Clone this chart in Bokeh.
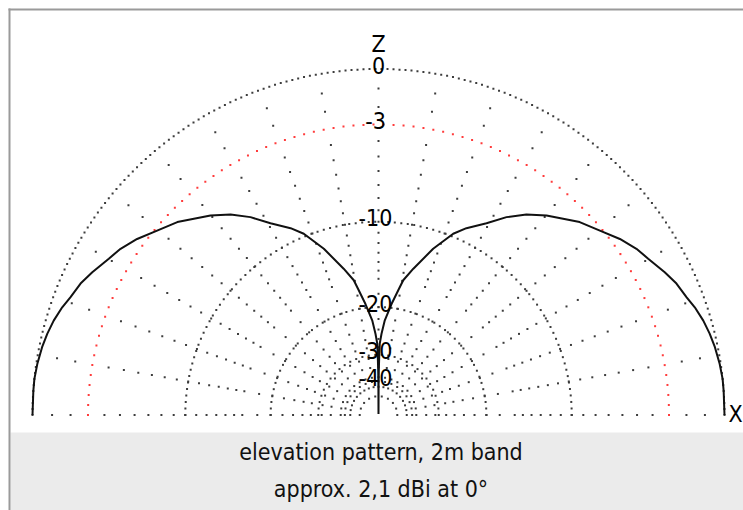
import math
from bokeh.plotting import figure
from bokeh.models import Range1d
from bokeh.core.properties import value
from bokeh.embed import file_html
from bokeh.resources import INLINE

# ---------------- data ----------------
# elevation angle measured from the X axis (right horizon), degrees
elev_deg = [0, 4, 6, 8.5, 11.4, 13.8, 16.2, 18.8, 20.9, 23.8, 26.5, 30.1, 32.8,
            36.1, 39.8, 43.8, 49.9, 53.6, 57.1, 60.6, 64.8, 67.6, 71.8, 76.6,
            79.6, 81.0, 83.3, 86.2, 87.9, 89.0, 89.3, 89.6, 89.8, 90.0,
            90.2, 90.4, 90.7, 91.0, 92.1, 93.8, 96.7, 99.0, 100.4, 103.4,
            108.2, 112.4, 115.2, 119.4, 122.9, 126.4, 130.1, 136.2, 140.2,
            143.9, 147.2, 149.9, 153.5, 156.2, 159.1, 161.2, 163.8, 166.2,
            168.6, 171.5, 174.0, 176.0, 180.0]
gain_db = [0.0, 0.0, 0.0, -0.05, -0.14, -0.25, -0.39, -0.6, -0.82, -1.04, -1.35,
           -1.79, -2.06, -2.52, -3.14, -3.71, -4.85, -5.63, -6.59, -7.77, -8.86,
           -9.75, -11.7, -14.3, -15.9, -17.3, -19.4, -22.2, -24.9, -27.1, -30.7,
           -35.0, -42.0, -99.0,
           -42.0, -35.0, -30.7, -27.1, -24.9, -22.2, -19.4, -17.3, -15.9, -14.3,
           -11.7, -9.75, -8.86, -7.77, -6.59, -5.63, -4.85, -3.71, -3.14, -2.52,
           -2.06, -1.79, -1.35, -1.04, -0.82, -0.6, -0.39, -0.25, -0.14, -0.05,
           0.0, 0.0, 0.0]

ring_db = [0, -3, -10, -20, -30, -40, -50]
ring_labels = ["0", "-3", "-10", "-20", "-30", "-40", ""]
radial_angles = list(range(0, 181, 10))
axis_labels = ["Z", "X"]
caption_lines = ["elevation pattern, 2m band", "approx. 2,1 dBi at 0\u00b0"]

# ---------------- layout / style ----------------
FONT = "'DejaVu Sans Condensed', 'DejaVu Sans', sans-serif"
W, H = 743, 510
CXP, CYP = 378.0, 414.5          # polar centre on the page (px)
R = 346.0                        # radius of the 0 dB ring (px)
GRAY = "#3c3c3c"
RED = "#ff3b3b"
TXT_SHIFT = 10.0


def rad(db):
    """ARRL log-periodic scale: 0.89 per 2 dB."""
    return R * 0.89 ** (-db / 2.0)


p = figure(width=W, height=H,
           x_range=Range1d(0 - CXP, W - CXP),
           y_range=Range1d(CYP - H, CYP - 0),
           output_backend="svg", toolbar_location=None,
           x_axis_location=None, y_axis_location=None, min_border=0)
p.grid.visible = False
p.outline_line_color = None
p.background_fill_color = "white"
p.border_fill_color = "white"

# caption panel
p.quad(left=[10 - CXP], right=[W - CXP], top=[CYP - 432], bottom=[CYP - H],
       fill_color="#ebebeb", line_color=None)
# frame (left / top edges)
p.line([9 - CXP, 9 - CXP], [CYP - 8, CYP - H], line_color="#9a9a9a", line_width=2)
p.line([8 - CXP, W - CXP], [CYP - 9, CYP - 9], line_color="#9a9a9a", line_width=2)

# ---- rings as dots ----
for db in ring_db:
    r = rad(db)
    spacing = 10.0 if db == -3 else (6.0 if db == 0 else 6.5)
    n = max(2, int(round(math.pi * r / spacing)))
    xs, ys = [], []
    for k in range(n + 1):
        t = math.pi * k / n
        xs.append(r * math.cos(t))
        ys.append(r * math.sin(t))
    p.scatter(xs, ys, marker="square", size=2,
              fill_color=RED if db == -3 else GRAY, line_color=None)

# ---- radials as dots (1 dB steps, thinned where they crowd) ----
steps = []
last_r = rad(0)
for d in range(1, 46):
    r = rad(-d)
    if last_r - r >= 8.0:
        if d != 3:
            steps.append(r)
        last_r = r
rx, ry = [], []
for a in radial_angles:
    t = math.radians(a)
    for r in steps:
        rx.append(r * math.cos(t))
        ry.append(r * math.sin(t))
p.scatter(rx, ry, marker="square", size=2, fill_color=GRAY, line_color=None)

# ---- pattern ----
px = [rad(g) * math.cos(math.radians(a)) for a, g in zip(elev_deg, gain_db)]
py = [rad(g) * math.sin(math.radians(a)) for a, g in zip(elev_deg, gain_db)]
p.line(px, py, line_color="#111111", line_width=2)

# ---- ring labels ----
lx, ly, lt = [], [], []
for db, lab in zip(ring_db, ring_labels):
    if lab:
        lx.append(0 if db == 0 else -3)
        ly.append(rad(db) - 6 + TXT_SHIFT)
        lt.append(lab)
p.text(lx, ly, text=lt, text_align="center", text_baseline="alphabetic",
       text_font=value(FONT), text_font_size="23px", text_color="#000000")

# axis letters
p.text([0, 357], [CYP - 53.4 + TXT_SHIFT, CYP - 423.4 + TXT_SHIFT], text=axis_labels,
       text_align="center", text_baseline="alphabetic", text_font=value(FONT),
       text_font_size="23px", text_color="#000000")

# caption
p.text([2.5, 2.5], [CYP - 461.7 + TXT_SHIFT, CYP - 498.3 + TXT_SHIFT], text=caption_lines,
       text_align="center", text_baseline="alphabetic", text_font=value(FONT),
       text_font_size="23px", text_color="#111111")

open("out.html", "w").write(file_html(p, INLINE))
